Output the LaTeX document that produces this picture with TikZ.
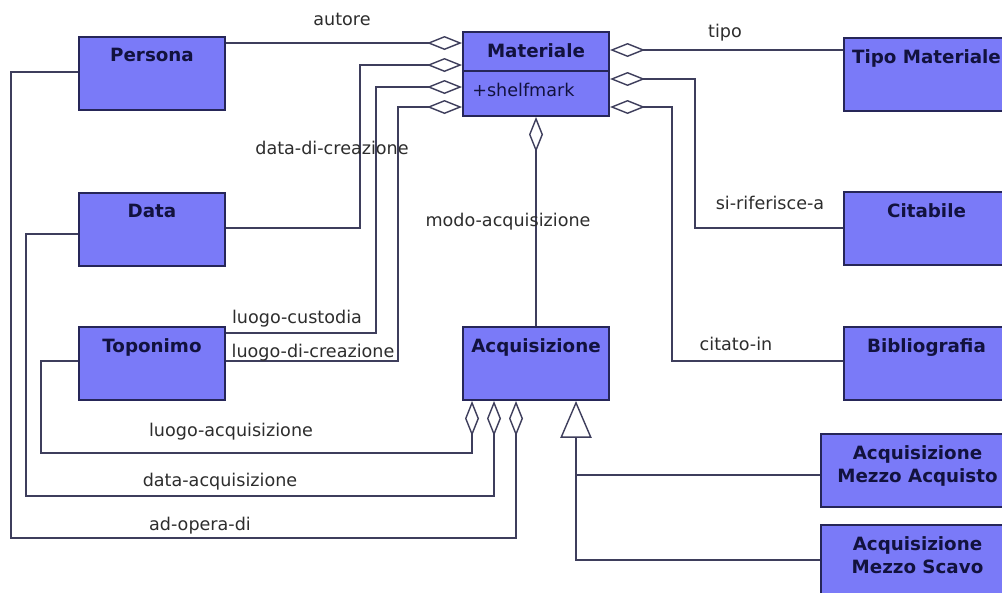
\documentclass[tikz,border=0pt]{standalone}
\usepackage{fontspec}
\setsansfont{DejaVu Sans}
\usepackage{tikz}
\usetikzlibrary{arrows.meta}
\definecolor{classfill}{RGB}{122,122,248}
\definecolor{classline}{RGB}{38,38,88}
\definecolor{classtext}{RGB}{18,18,62}
\definecolor{assocline}{RGB}{62,62,92}
\definecolor{roletext}{RGB}{45,45,45}

\tikzset{
  classbox/.style={draw=classline, fill=classfill, line width=1.4pt,
    anchor=north west, inner sep=0pt,
    minimum width=3.65cm, minimum height=1.825cm},
  classname/.style={anchor=north, yshift=-0.3cm, inner sep=0pt,
    align=center, text=classtext,
    font=\sffamily\bfseries\fontsize{13}{16.3}\selectfont},
  role/.style={text=roletext, inner sep=0pt,
    font=\sffamily\fontsize{12.5}{15}\selectfont},
  assoc/.style={draw=assocline, line width=1.2pt},
  agg/.style={assoc,
    -{Diamond[open, length=0.875cm, width=0.35cm, line width=1pt]}},
  gen/.style={assoc,
    -{Triangle[open, length=0.92cm, width=0.78cm, line width=1pt]}}
}

\begin{document}
\begin{tikzpicture}[x=0.025cm, y=-0.025cm]
  \clip (0,0) rectangle (1002,593);
  \fill[white] (0,0) rectangle (1002,593);

  % Classes, left column
  \node[classbox, label={[classname]north:Persona}] (persona) at (78,36) {};
  \node[classbox, label={[classname]north:Data}] (data) at (78,192) {};
  \node[classbox, label={[classname]north:Toponimo}] (toponimo) at (78,326) {};

  % Middle column
  \node[classbox, minimum height=2.1cm,
    label={[classname]north:Materiale}] (materiale) at (462,31) {};
  \draw[classline, line width=1.4pt]
    ([yshift=-1cm]materiale.north west) -- ([yshift=-1cm]materiale.north east);
  \node[anchor=west, inner sep=0pt, text=classtext,
    font=\sffamily\fontsize{12.5}{15}\selectfont] (shelfmark)
    at ([xshift=0.25cm, yshift=-1.475cm]materiale.north west) {+shelfmark};
  \node[classbox, label={[classname]north:Acquisizione}] (acquisizione) at (462,326) {};

  % Right column
  \node[classbox, minimum width=4.125cm,
    label={[classname]north:Tipo Materiale}] (tipomat) at (843,37) {};
  \node[classbox, minimum width=4.125cm,
    label={[classname]north:Citabile}] (citabile) at (843,191) {};
  \node[classbox, minimum width=4.125cm,
    label={[classname]north:Bibliografia}] (biblio) at (843,326) {};
  \node[classbox, minimum width=4.825cm,
    label={[classname]north:Acquisizione\\Mezzo Acquisto}] (acquisto) at (820,433) {};
  \node[classbox, minimum width=4.825cm,
    label={[classname]north:Acquisizione\\Mezzo Scavo}] (scavo) at (820,524) {};

  % Aggregations into Materiale
  \draw[agg] (persona.east |- 0,43) -- (materiale.west |- 0,43);
  \draw[agg] (data.east |- 0,228) -| (360,65) -- (materiale.west |- 0,65);
  \draw[agg] (toponimo.east |- 0,333) -| (376,87) -- (materiale.west |- 0,87);
  \draw[agg] (toponimo.east |- 0,361) -| (398,107) -- (materiale.west |- 0,107);
  \draw[agg] (tipomat.west |- 0,50) -- (materiale.east |- 0,50);
  \draw[agg] (citabile.west |- 0,228) -| (695,79) -- (materiale.east |- 0,79);
  \draw[agg] (biblio.west |- 0,361) -| (672,107) -- (materiale.east |- 0,107);
  \draw[agg] (acquisizione.north) -- (materiale.south);

  % Aggregations into Acquisizione
  \draw[agg] (toponimo.west |- 0,361) -| (41,453) -| (acquisizione.south -| 472,0);
  \draw[agg] (data.west |- 0,234) -| (26,496) -| (acquisizione.south -| 494,0);
  \draw[agg] (persona.west |- 0,72) -| (11,538) -| (acquisizione.south -| 516,0);

  % Generalization
  \draw[gen] (scavo.west |- 0,560) -| (acquisizione.south -| 576,0);
  \draw[assoc] (acquisto.west |- 0,475) -- (576,475);

  % Role names
  \node[role] (r-autore) at (342,19) {autore};
  \node[role] (r-tipo) at (725,33) {tipo};
  \node[role] (r-datacre) at (332,148) {data-di-creazione};
  \node[role] (r-modo) at (508,222) {modo-acquisizione};
  \node[role] (r-rif) at (770,203) {si-riferisce-a};
  \node[role] (r-custodia) at (297,319) {luogo-custodia};
  \node[role] (r-luogocre) at (313,353) {luogo-di-creazione};
  \node[role] (r-citato) at (736,344) {citato-in};
  \node[role] (r-luogoacq) at (231,432) {luogo-acquisizione};
  \node[role] (r-dataacq) at (220,482) {data-acquisizione};
  \node[role] (r-opera) at (200,526) {ad-opera-di};
\end{tikzpicture}
\end{document}
